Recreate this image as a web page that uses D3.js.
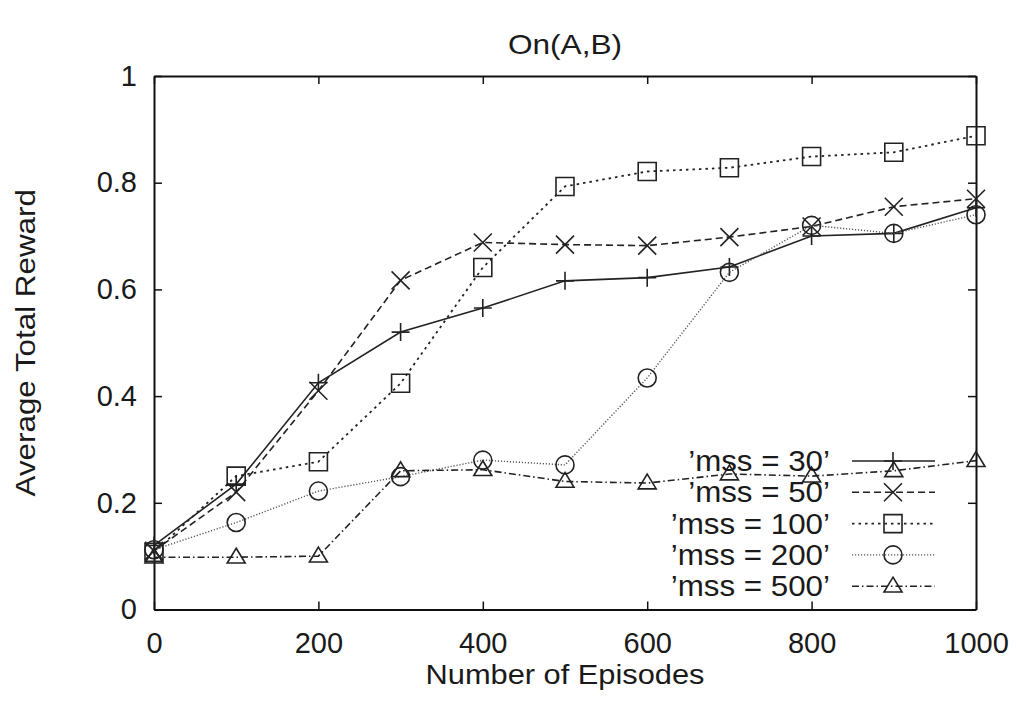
<!DOCTYPE html>
<html>
<head>
<meta charset="utf-8">
<script src="https://cdn.jsdelivr.net/npm/d3@7"></script>
<style>
  html, body { margin: 0; padding: 0; background: #fff; }
  svg text { font-family: "Liberation Sans", Arial, Helvetica, sans-serif; fill: #1a1a1a; }
</style>
</head>
<body>
<svg id="chart" width="1016" height="706"></svg>
<script>
// ---- data ----
const episodes = [0, 100, 200, 300, 400, 500, 600, 700, 800, 900, 1000];
const mss30  = [0.120, 0.235, 0.425, 0.520, 0.565, 0.616, 0.622, 0.642, 0.700, 0.705, 0.753];
const mss50  = [0.110, 0.220, 0.410, 0.617, 0.688, 0.684, 0.682, 0.698, 0.718, 0.755, 0.770];
const mss100 = [0.107, 0.250, 0.277, 0.424, 0.641, 0.793, 0.821, 0.828, 0.849, 0.857, 0.888];
const mss200 = [0.112, 0.163, 0.222, 0.249, 0.280, 0.271, 0.434, 0.632, 0.720, 0.705, 0.740];
const mss500 = [0.098, 0.098, 0.100, 0.260, 0.262, 0.240, 0.237, 0.254, 0.250, 0.260, 0.279];
const seriesNames = ["\u2019mss = 30\u2019", "\u2019mss = 50\u2019", "\u2019mss = 100\u2019", "\u2019mss = 200\u2019", "\u2019mss = 500\u2019"];
const xTickValues = [0, 200, 400, 600, 800, 1000];
const xTickLabels = ["0", "200", "400", "600", "800", "1000"];
const yTickValues = [0, 0.2, 0.4, 0.6, 0.8, 1];
const yTickLabels = ["0", "0.2", "0.4", "0.6", "0.8", "1"];
const chartTitle = "On(A,B)";
const xTitle = "Number of Episodes";
const yTitle = "Average Total Reward";

// ---- layout ----
const svg = d3.select("#chart");
const L = 154, R = 976, T = 76, B = 609.5;
const x = d3.scaleLinear().domain([0, 1000]).range([L, R]);
const y = d3.scaleLinear().domain([0, 1]).range([B, T]);

const series = [
  { name: seriesNames[0], values: mss30,  dash: null,          stroke: "#222", width: 1.6, marker: "plus" },
  { name: seriesNames[1], values: mss50,  dash: "7,4",         stroke: "#222", width: 1.6, marker: "cross" },
  { name: seriesNames[2], values: mss100, dash: "2.5,4",       stroke: "#222", width: 1.8, marker: "square" },
  { name: seriesNames[3], values: mss200, dash: "1.2,1.8",     stroke: "#555", width: 1.4, marker: "circle" },
  { name: seriesNames[4], values: mss500, dash: "7,3,1.5,3",   stroke: "#222", width: 1.6, marker: "triangle" }
];

function markerPath(type, s) {
  const h = s / 2;
  switch (type) {
    case "plus": return `M${-h},0H${h}M0,${-h}V${h}`;
    case "cross": return `M${-h},${-h}L${h},${h}M${-h},${h}L${h},${-h}`;
    case "square": return `M${-h},${-h}H${h}V${h}H${-h}Z`;
    case "circle": return `M${h},0A${h},${h} 0 1,1 ${-h},0A${h},${h} 0 1,1 ${h},0Z`;
    case "triangle": return `M0,${-h}L${h},${h*0.65}L${-h},${h*0.65}Z`;
  }
}

function stretchedText(g, tx, ty, txt, size, sx, anchor, rot) {
  return g.append("text")
    .attr("transform", `translate(${tx},${ty})${rot ? ` rotate(${rot})` : ""} scale(${sx},1)`)
    .attr("text-anchor", anchor)
    .attr("font-size", size)
    .text(txt);
}

// ---- axes (inward ticks on all four sides) ----
const axisStyle = g => {
  g.selectAll(".domain").attr("stroke", "#111").attr("stroke-width", 2);
  g.selectAll(".tick line").attr("stroke", "#111").attr("stroke-width", 1.5);
  g.selectAll(".tick text").attr("font-size", 29).attr("fill", "#1a1a1a")
    .attr("font-family", '"Liberation Sans", Arial, sans-serif');
};

svg.append("g").attr("transform", `translate(0,${B})`)
  .call(d3.axisBottom(x).tickValues(xTickValues).tickFormat((d, i) => xTickLabels[i])
    .tickSizeInner(-8).tickSizeOuter(0).tickPadding(23))
  .call(axisStyle);
svg.append("g").attr("transform", `translate(0,${T})`)
  .call(d3.axisTop(x).tickValues(xTickValues).tickFormat("")
    .tickSizeInner(-8).tickSizeOuter(0))
  .call(axisStyle);
svg.append("g").attr("transform", `translate(${L},0)`)
  .call(d3.axisLeft(y).tickValues(yTickValues).tickFormat((d, i) => yTickLabels[i])
    .tickSizeInner(-8).tickSizeOuter(0).tickPadding(17))
  .call(axisStyle);
svg.append("g").attr("transform", `translate(${R},0)`)
  .call(d3.axisRight(y).tickValues(yTickValues).tickFormat("")
    .tickSizeInner(-8).tickSizeOuter(0))
  .call(axisStyle);

// ---- titles ----
stretchedText(svg, (L + R) / 2, 54, chartTitle, 28, 1.13, "middle");
stretchedText(svg, (L + R) / 2, 684, xTitle, 28, 1.1, "middle");
stretchedText(svg, 35, (T + B) / 2, yTitle, 28, 1.12, "middle", -90);

// ---- series ----
const line = d3.line().x((d, i) => x(episodes[i])).y(d => y(d));
const plot = svg.append("g");
series.forEach(s => {
  plot.append("path")
    .datum(s.values)
    .attr("fill", "none")
    .attr("stroke", s.stroke)
    .attr("stroke-width", s.width)
    .attr("stroke-dasharray", s.dash)
    .attr("d", line);
  plot.selectAll(null)
    .data(s.values)
    .enter().append("path")
    .attr("transform", (d, i) => `translate(${x(episodes[i])},${y(d)})`)
    .attr("d", markerPath(s.marker, 18))
    .attr("fill", "none")
    .attr("stroke", "#222")
    .attr("stroke-width", 1.6);
});

// ---- legend ----
const legend = svg.append("g");
const legY0 = 461, legDY = 31.3;
series.forEach((s, i) => {
  const ly = legY0 + i * legDY;
  stretchedText(legend, 830, ly + 10, s.name, 29, 1.08, "end");
  legend.append("line")
    .attr("x1", 852).attr("x2", 935).attr("y1", ly).attr("y2", ly)
    .attr("stroke", s.stroke).attr("stroke-width", s.width)
    .attr("stroke-dasharray", s.dash);
  legend.append("path")
    .attr("transform", `translate(893,${ly})`)
    .attr("d", markerPath(s.marker, 18))
    .attr("fill", "none").attr("stroke", "#222").attr("stroke-width", 1.6);
});
</script>
</body>
</html>
